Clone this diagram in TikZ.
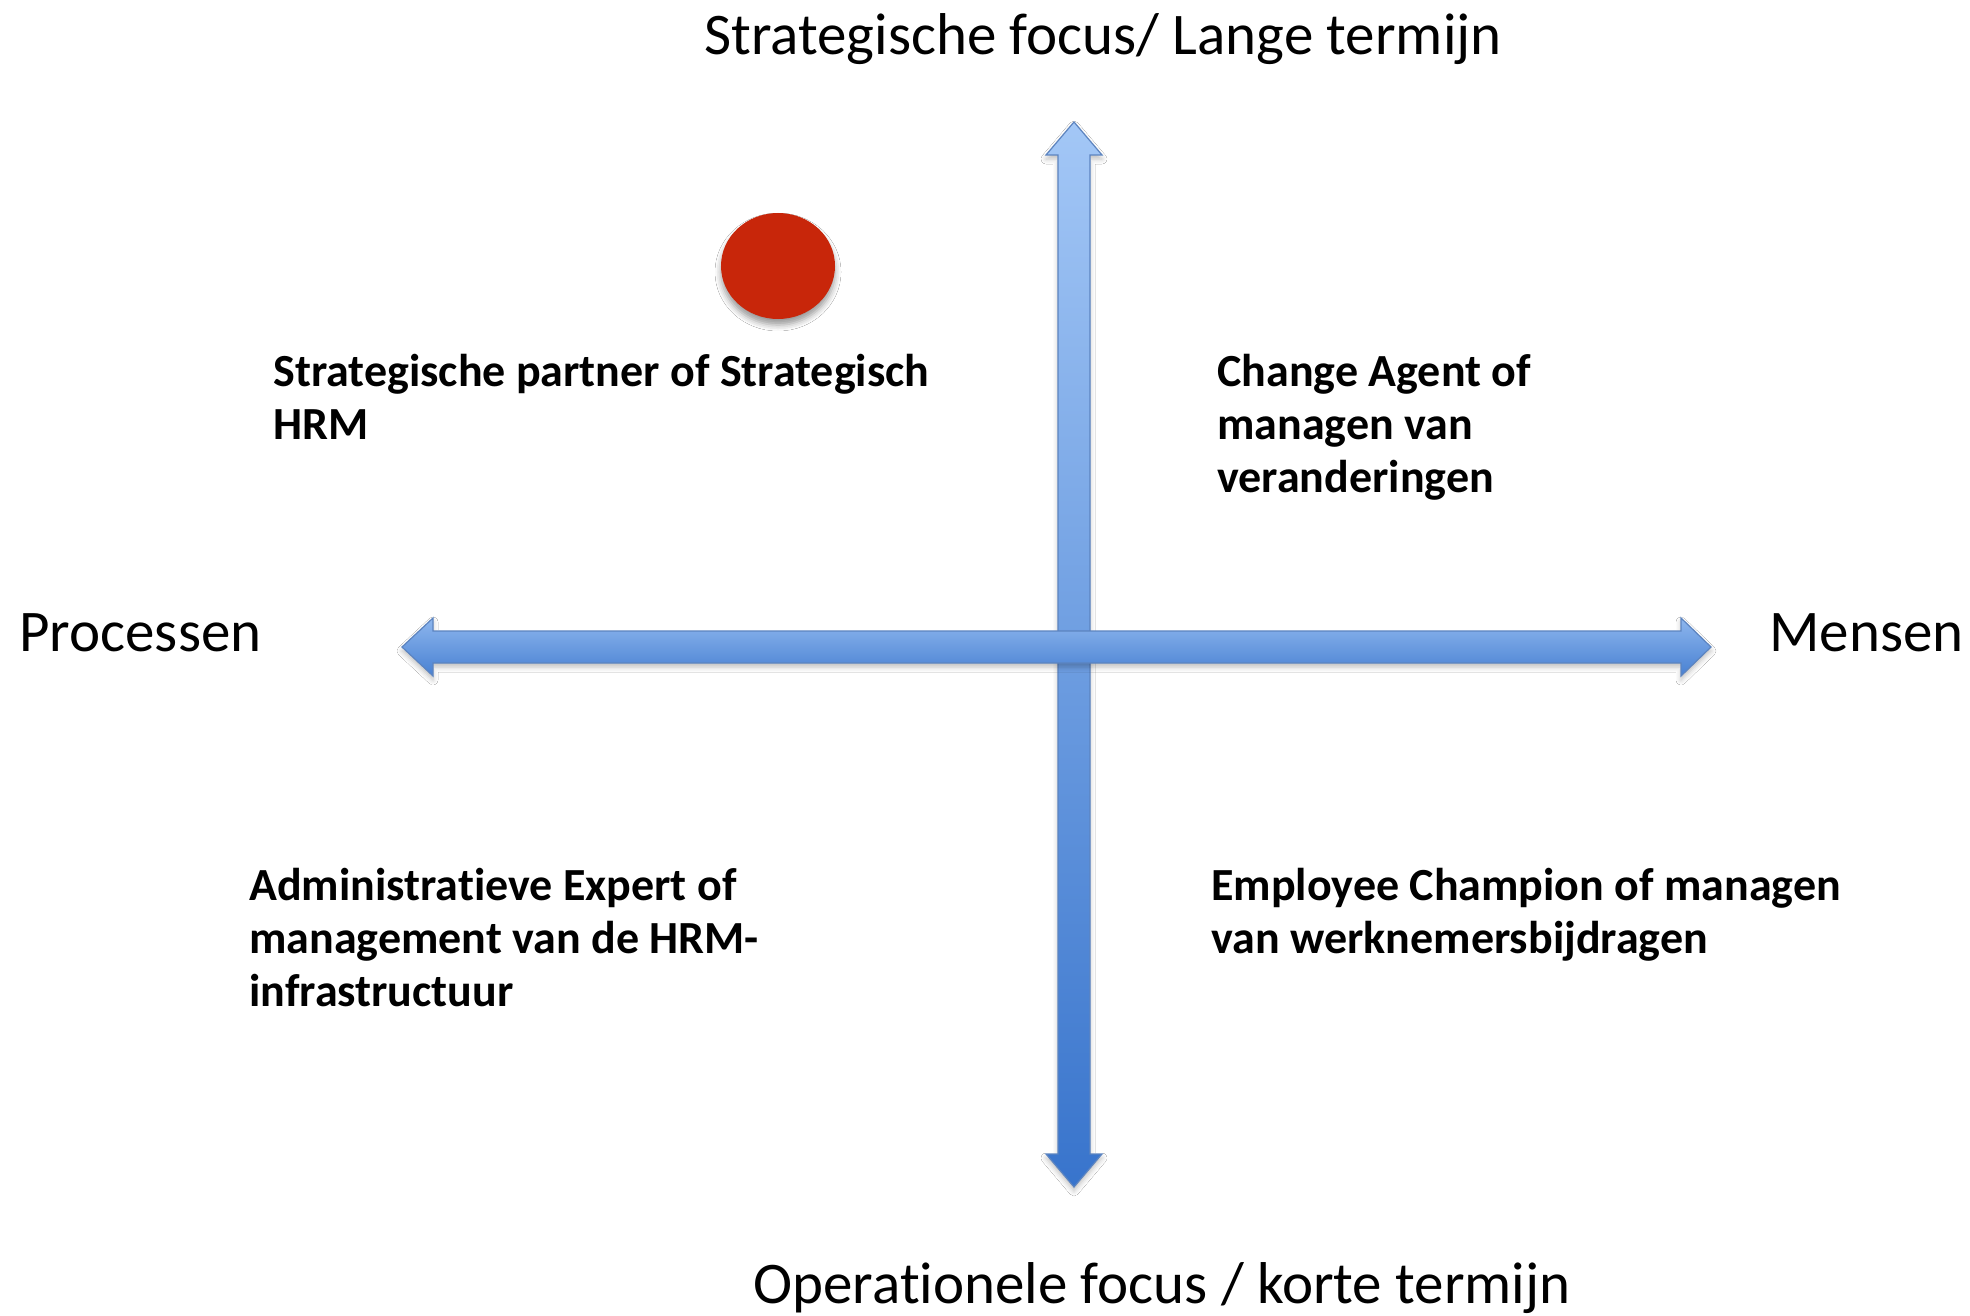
\documentclass[tikz,border=0pt]{standalone}
\usepackage{fontspec}
\setmainfont{Carlito}[Ligatures=NoCommon]
\usepackage{xcolor}
\usetikzlibrary{shadows.blur}

\definecolor{axislight}{RGB}{163,199,246}
\definecolor{axisdark}{RGB}{56,116,204}
\definecolor{axisedge}{RGB}{92,132,192}
\definecolor{dotred}{RGB}{200,38,10}

\tikzset{
    axisbar/.style={draw=axisedge, line width=0.6pt,
        blur shadow={shadow xshift=0pt, shadow yshift=-2pt, shadow blur radius=2.5pt, shadow opacity=25}},
    axislabel/.style={font=\fontsize{29.5}{35}\selectfont, inner sep=0pt, anchor=base},
    rolelabel/.style={font=\fontsize{23}{26.5}\selectfont\bfseries, align=left, inner sep=0pt, anchor=base west}
}

\begin{document}
\begin{tikzpicture}[x=0.5pt,y=-0.5pt]
    \useasboundingbox[fill=white] (0,0) rectangle (1970,1316);

    % vertical axis
    \shade[axisbar, top color=axislight, bottom color=axisdark]
        (1074,122) -- (1102,155) -- (1090,155) -- (1090,1154) -- (1102,1154)
        -- (1074,1187) -- (1046,1154) -- (1058,1154) -- (1058,155) -- (1046,155) -- cycle;
    % horizontal axis
    \shade[axisbar, top color=axislight!80!axisdark, bottom color=axisdark!85!axislight]
        (402,647) -- (433,618) -- (433,631) -- (1681,631) -- (1681,618)
        -- (1711,647) -- (1681,676) -- (1681,663) -- (433,663) -- (433,676) -- cycle;

    % marker
    \fill[dotred, blur shadow={shadow xshift=0pt, shadow yshift=-3pt, shadow blur radius=3pt, shadow opacity=40}]
        (778,266) ellipse [x radius=57, y radius=53];

    % axis texts
    \node[axislabel] (top) at (1103,55) {Strategische focus/ Lange termijn};
    \node[axislabel] (bottom) at (1162,1303) {Operationele focus / korte termijn};
    \node[axislabel, anchor=base west] (left) at (19,651) {Processen};
    \node[axislabel, anchor=base west] (right) at (1769,651) {Mensen};

    % quadrants (base = last line)
    \node[rolelabel] (partner) at (273,439) {Strategische partner of Strategisch\\HRM};
    \node[rolelabel] (change) at (1217,492) {Change Agent of\\managen van\\veranderingen};
    \node[rolelabel] (admin) at (249,1006) {Administratieve Expert of\\management van de HRM-\\infrastructuur};
    \node[rolelabel] (champion) at (1211,953) {Employee Champion of managen\\van werknemersbijdragen};
\end{tikzpicture}
\end{document}
